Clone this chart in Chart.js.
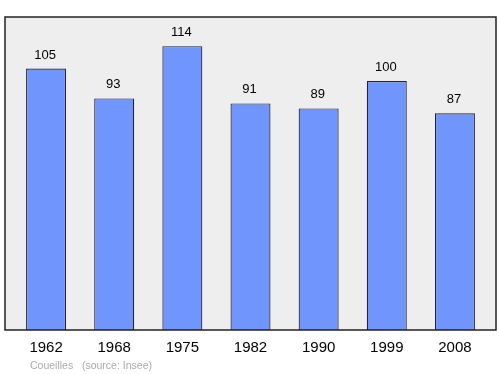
<!DOCTYPE html>
<html>
<head>
<meta charset="utf-8">
<script src="https://cdn.jsdelivr.net/npm/chart.js@4"></script>
<style>
  body { margin: 0; background: #fff; }
  #wrap { width: 500px; height: 374px; }
</style>
</head>
<body>
<div id="wrap"><canvas id="chart" width="500" height="374"></canvas></div>
<script>
const years = ["1962", "1968", "1975", "1982", "1990", "1999", "2008"];
const population = [105, 93, 114, 91, 89, 100, 87];
const sourceText = "Coueilles   (source: Insee)";

// grey plot box behind the bars
const frame = {
    id: 'frame',
    beforeDatasetsDraw(chart) {
        const { ctx, chartArea } = chart;
        const x0 = chartArea.left - 7, x1 = chartArea.right + 7;
        ctx.save();
        ctx.fillStyle = '#eeeeee';
        ctx.fillRect(x0, chartArea.top, x1 - x0, chartArea.bottom - chartArea.top);
        ctx.restore();
    },
    afterDatasetsDraw(chart) {
        const { ctx, chartArea } = chart;
        const x0 = chartArea.left - 7, x1 = chartArea.right + 7;
        const meta = chart.getDatasetMeta(0);
        ctx.save();
        ctx.fillStyle = '#000';
        ctx.font = '13px "Liberation Sans", Arial, sans-serif';
        ctx.textAlign = 'center';
        ctx.textBaseline = 'alphabetic';
        meta.data.forEach((bar, i) => {
            ctx.fillText(population[i], bar.x - 1, bar.y - 10);
        });
        ctx.strokeStyle = '#222';
        ctx.lineWidth = 1.5;
        ctx.strokeRect(x0, chartArea.top, x1 - x0, chartArea.bottom - chartArea.top);
        ctx.fillStyle = '#aaaaaa';
        ctx.font = '10.5px "Liberation Sans", Arial, sans-serif';
        ctx.textAlign = 'left';
        ctx.fillText(sourceText, 30, 369);
        ctx.restore();
    }
};

new Chart(document.getElementById('chart'), {
    type: 'bar',
    data: {
        labels: years,
        datasets: [{
            data: population,
            backgroundColor: '#7095fd',
            borderColor: '#222233',
            borderWidth: 1.2,
            categoryPercentage: 1,
            barPercentage: 0.587,
        }]
    },
    options: {
        responsive: false,
        animation: false,
        layout: { padding: { left: 12, right: 11, top: 17, bottom: 0 } },
        plugins: { legend: { display: false }, tooltip: { enabled: false } },
        scales: {
            y: { display: false, min: 0, max: 125.7 },
            x: {
                grid: { display: false, drawTicks: false },
                border: { display: false },
                ticks: {
                    color: '#000',
                    padding: 9,
                    font: { family: '"Liberation Sans", Arial, sans-serif', size: 15 }
                },
                afterFit(scale) { scale.height = 44; }
            }
        }
    },
    plugins: [frame]
});
</script>
</body>
</html>
